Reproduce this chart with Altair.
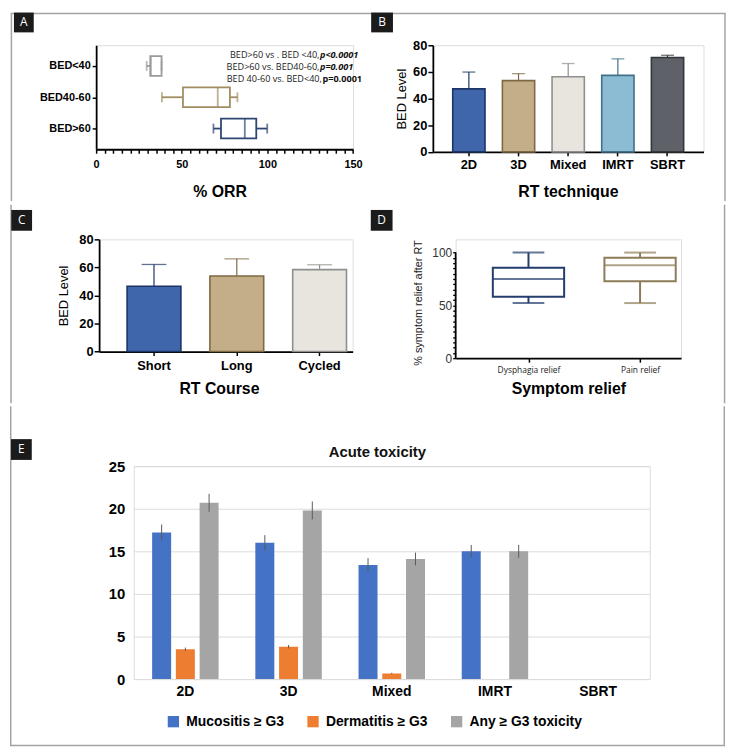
import altair as alt
import pandas as pd

# ---------------- data ----------------
# Panel A: % ORR by BED group (box plots)
bed_groups = ["BED<40", "BED40-60", "BED>60"]
orr_min = [29.5, 38.4, 68.5]
orr_q1 = [31.6, 50.7, 72.9]
orr_median = [32.0, 71.0, 86.8]
orr_q3 = [38.2, 78.1, 93.5]
orr_max = [38.2, 82.5, 99.9]
bed_colors = ["#9a9a9a", "#a18d62", "#2d4673"]
orr_ticks = list(range(0, 151, 5))
pvalue_text = ["BED>60 vs . BED <40, ", "BED>60 vs. BED40-60,", "BED 40-60 vs. BED<40,"]
pvalue_bold = ["p<0.0001", "p=0.001", "p=0.0001"]
pvalue_style = ["italic", "italic", "normal"]

# Panel B: BED level by RT technique
techniques = ["2D", "3D", "Mixed", "IMRT", "SBRT"]
bed_mean_tech = [47.3, 53.5, 56.4, 57.4, 70.8]
bed_sd_tech = [12.6, 5.2, 9.9, 12.4, 1.7]
tech_fill = ["#3f66aa", "#c4ae88", "#e8e5de", "#8bbcd3", "#5e6167"]
tech_stroke = ["#1c3466", "#7d6a45", "#8f8f8f", "#3f7189", "#33363a"]

# Panel C: BED level by RT course
courses = ["Short", "Long", "Cycled"]
bed_mean_course = [46.6, 53.9, 58.4]
bed_sd_course = [15.5, 12.2, 3.5]
course_fill = ["#3f66aa", "#c4ae88", "#e8e5de"]
course_stroke = ["#1c3466", "#7d6a45", "#8f8f8f"]

# Panel D: symptom relief (box plots)
symptoms = ["Dysphagia relief", "Pain relief"]
relief_min = [52.2, 52.2]
relief_q1 = [58.1, 72.8]
relief_median = [75.0, 88.1]
relief_q3 = [85.6, 95.0]
relief_max = [100.0, 100.0]
relief_axis = [0, 100]
symptom_colors = ["#233d6d", "#8e7c58"]

# Panel E: acute toxicity
tox_series = ["Mucositis \u2265 G3", "Dermatitis \u2265 G3", "Any \u2265 G3 toxicity"]
tox_colors = ["#4472c4", "#ed7d31", "#a5a5a5"]
mucositis = [17.2, 16.0, 13.4, 15.0, None]
mucositis_err = [0.95, 0.9, 0.8, 0.75, None]
dermatitis = [3.5, 3.8, 0.66, None, None]
dermatitis_err = [0.2, 0.2, 0.08, None, None]
any_tox = [20.7, 19.8, 14.1, 15.0, None]
any_tox_err = [1.05, 1.05, 0.75, 0.75, None]

panel_letters = ["A", "B", "C", "D", "E"]

FONT = "Liberation Sans"
FRAME = "#a3a3a3"
one = pd.DataFrame({"k": [0]})


def spacer(w):
    return alt.Chart(one).mark_point(size=0, opacity=0, strokeWidth=0).encode(
        x=alt.value(0), y=alt.value(0)).properties(
        width=w, height=1, view=alt.ViewBackground(strokeWidth=0, strokeOpacity=0, opacity=0))


def band_layers(x0, x1, y0, y1, top=None, bottom=False):
    """Invisible band fixing a row's extent, plus the figure frame segments for that row."""
    out = [alt.Chart(one).mark_rect(fill="white", opacity=0).encode(
        x=alt.value(x0), x2=alt.value(x1), y=alt.value(y0), y2=alt.value(y1))]
    ya = top if top is not None else y0 + 0.75
    yb = y1 - 0.75
    for xx in (x0 + 0.75, x1 - 0.75):
        out.append(alt.Chart(one).mark_rule(color=FRAME, strokeWidth=1.5).encode(
            x=alt.value(xx), y=alt.value(ya), y2=alt.value(yb)))
    if top is not None:
        out.append(alt.Chart(one).mark_rule(color=FRAME, strokeWidth=1.5).encode(
            x=alt.value(x0), x2=alt.value(x1), y=alt.value(top)))
    if bottom:
        out.append(alt.Chart(one).mark_rule(color=FRAME, strokeWidth=1.5).encode(
            x=alt.value(x0), x2=alt.value(x1), y=alt.value(y1 - 0.75)))
    return out


def letter_layers(letters, boxes):
    out = []
    for letter, (x0, y0, x1, y1) in zip(letters, boxes):
        out.append(alt.Chart(one).mark_rect(fill="#1b1b1b").encode(
            x=alt.value(x0), x2=alt.value(x1), y=alt.value(y0), y2=alt.value(y1)))
        out.append(alt.Chart(one).mark_text(
            text=letter, font="Open Sans", fontSize=12, color="white", align="center",
            baseline="middle").encode(x=alt.value((x0 + x1) / 2), y=alt.value((y0 + y1) / 2)))
    return out


# ---------------- Panel A ----------------
dfA = pd.DataFrame({"group": bed_groups, "lo": orr_min, "q1": orr_q1, "med": orr_median,
                    "q3": orr_q3, "hi": orr_max, "col": bed_colors})


def xA(field):
    return alt.X(field, type="quantitative",
                 scale=alt.Scale(domain=[0, 150], nice=False, zero=True),
                 axis=alt.Axis(values=orr_ticks, labelExpr="datum.value % 50 === 0 ? datum.label : ''",
                               labelOverlap=False, labelFlush=False, grid=False,
                               labelFontSize=11, labelFontWeight="bold", labelColor="black",
                               labelPadding=5, tickSize=4, tickWidth=1.5, tickColor="black",
                               domainColor="black", domainWidth=1.8,
                               title="% ORR", titleFontSize=16, titleFontWeight="bold",
                               titleColor="black", titleBaseline="middle", titleY=43, titleX=124.7))


yA = alt.Y("group:N", sort=bed_groups,
           scale=alt.Scale(type="point", domain=bed_groups, padding=0.66),
           axis=alt.Axis(title=None, labelFontSize=11, labelFontWeight="bold", labelColor="black",
                         tickSize=4, tickWidth=1.5, tickColor="black", labelPadding=2,
                         domainColor="black", domainWidth=1.8, grid=False))
colA = alt.Color("col:N", scale=None)

a_box = alt.Chart(dfA).mark_bar(fill="white", strokeWidth=1.8, size=20).encode(
    x=xA("q1"), x2="q3:Q", y=yA, stroke=alt.Stroke("col:N", scale=None))
a_wl = alt.Chart(dfA).mark_rule(strokeWidth=1.8).encode(x=xA("lo"), x2="q1:Q", y=yA, color=colA)
a_wh = alt.Chart(dfA).mark_rule(strokeWidth=1.8).encode(x=xA("q3"), x2="hi:Q", y=yA, color=colA)
a_caps = alt.Chart(dfA).transform_fold(["lo", "hi"], as_=["which", "capv"]).mark_tick(
    size=10, thickness=1.8).encode(x=xA("capv"), y=yA, color=colA)
a_med = alt.Chart(dfA).mark_tick(size=20, thickness=1.8).encode(x=xA("med"), y=yA, color=colA)

# annotations (pixel positions relative to panel A plot area)
ann_y = [9.5, 21.5, 34.0]
ann_px = [226.0, 226.0, 228.5]
ann_layers = []
for i in range(3):
    ann_layers.append(alt.Chart(one).mark_text(
        text=pvalue_text[i], align="right", baseline="middle", font="Open Sans", fontSize=9.2,
        color="#222").encode(x=alt.value(ann_px[i] - 0.5), y=alt.value(ann_y[i])))
    ann_layers.append(alt.Chart(one).mark_text(
        text=pvalue_bold[i], align="left", baseline="middle", font="Open Sans", fontSize=9.2,
        fontWeight="bold", fontStyle=pvalue_style[i], color="#111").encode(
        x=alt.value(ann_px[i]), y=alt.value(ann_y[i])))

panelA = alt.layer(*band_layers(-86.3, 635.7, -33, 158, top=-32), a_box, a_wl, a_wh, a_caps,
                   a_med, *ann_layers,
                   *letter_layers(panel_letters[:2], [(-83, -33, -63, -13),
                                                      (277.7, -33, 299.7, -13)])
                   ).properties(width=259.4, height=105)


# ---------------- Panels B and C (bars with upper SD) ----------------
def bar_layers(cats, means, sds, fills, strokes, scale_kw, cap, xtitle, xtitle_x,
               xtitle_y, ytitle_x, lab_pad_x):
    df = pd.DataFrame({"cat": cats, "mean": means, "sd": sds, "fill": fills, "stroke": strokes})
    base = alt.Chart(df).transform_calculate(top="datum.mean + datum.sd")
    xax = alt.Axis(title=xtitle, labelAngle=0, labelFontSize=13, labelFontWeight="bold",
                   labelColor="black", tickSize=4, tickWidth=1.5, tickColor="black",
                   labelPadding=lab_pad_x, domainColor="black", domainWidth=1.8,
                   titleFontSize=16, titleFontWeight="bold", titleColor="black",
                   titleBaseline="middle", titleY=xtitle_y, titleX=xtitle_x)
    x = alt.X("cat:N", sort=cats, scale=alt.Scale(domain=cats, **scale_kw), axis=xax)
    yax = alt.Axis(values=[0, 20, 40, 60, 80], title="BED Level", labelFontSize=13,
                   labelFontWeight="bold", labelColor="black", tickSize=5, tickWidth=1.5,
                   tickColor="black", labelPadding=1, domainColor="black", domainWidth=1.8,
                   grid=False, titleFontSize=13, titleFontWeight="normal", titleColor="black",
                   titleBaseline="middle", titleX=ytitle_x)

    def y(field):
        return alt.Y(field, type="quantitative", scale=alt.Scale(domain=[0, 80], nice=False),
                     axis=yax)

    err = base.mark_rule(strokeWidth=1.2).encode(
        x=x, y=y("mean"), y2="top:Q", color=alt.Color("stroke:N", scale=None))
    caps = base.mark_tick(size=cap, thickness=1.3).encode(
        x=x, y=y("top"), color=alt.Color("stroke:N", scale=None))
    bars = base.mark_bar(strokeWidth=1.6).encode(
        x=x, y=y("mean"), fill=alt.Fill("fill:N", scale=None),
        stroke=alt.Stroke("stroke:N", scale=None))
    return [err, caps, bars]


panelB = alt.layer(*bar_layers(techniques, bed_mean_tech, bed_sd_tech, tech_fill, tech_stroke,
                               dict(paddingInner=0.35, paddingOuter=0.4), 13, "RT technique",
                               136.3, 39.7, -31.7, 2.5)).properties(width=273.3, height=107.7)

panelC = alt.layer(*band_layers(-89.7, 632.3, -35.7, 166.3),
                   *bar_layers(courses, bed_mean_course, bed_sd_course, course_fill, course_stroke,
                               dict(paddingInner=0.35, paddingOuter=0.206, align=0.82), 25,
                               "RT Course", 121, 37, -35.7, 3.8),
                   *letter_layers(panel_letters[2:4], [(-88.7, -29.7, -67.7, -8.7),
                                                       (274.3, -29.7, 296.3, -8.7)])
                   ).properties(width=256, height=113.3)

# ---------------- Panel D ----------------
dfD = pd.DataFrame({"sym": symptoms, "lo": relief_min, "q1": relief_q1, "med": relief_median,
                    "q3": relief_q3, "hi": relief_max, "col": symptom_colors})
xD = alt.X("sym:N", sort=symptoms,
           scale=alt.Scale(type="point", domain=symptoms, padding=0.51, align=0.64),
           axis=alt.Axis(labelAngle=0, labelFont="Open Sans", labelFontSize=8.5, labelColor="#222",
                         tickSize=4, tickWidth=1.5, tickColor="black", labelPadding=3.4,
                         domainColor="black", domainWidth=1.8, title="Symptom relief",
                         titleFontSize=16, titleFontWeight="bold", titleColor="black",
                         titleBaseline="middle", titleY=30.3))
D_TOP = 112.5  # plot area reaches above 100 so the panel sits lower than panel C


def yD(field):
    return alt.Y(field, type="quantitative", scale=alt.Scale(domain=[0, D_TOP], nice=False),
                 axis=alt.Axis(values=list(range(0, 101, 5)),
                               labelExpr="datum.value % 50 === 0 ? datum.label : ''",
                               labelOverlap=False, labelFlush=False, grid=False, labelFontSize=12,
                               labelColor="#333", tickSize=3, tickWidth=1.3, tickColor="black",
                               labelPadding=1, domain=False,
                               title="% symptom relief after RT", titleFontSize=11,
                               titleFontWeight="normal", titleColor="#222",
                               titleBaseline="middle", titleX=-37.4, titleY=63.8))


colD = alt.Color("col:N", scale=None)
dfDaxis = pd.DataFrame({"a0": [relief_axis[0]], "a1": [relief_axis[1]]})
d_axis = alt.Chart(dfDaxis).mark_rule(color="black", strokeWidth=1.8).encode(
    x=alt.value(0), y=yD("a0"), y2="a1:Q")
d_box = alt.Chart(dfD).mark_bar(fill="white", strokeWidth=2, size=72).encode(
    x=xD, y=yD("q1"), y2="q3:Q", stroke=alt.Stroke("col:N", scale=None))
d_wl = alt.Chart(dfD).mark_rule(strokeWidth=2).encode(x=xD, y=yD("lo"), y2="q1:Q", color=colD)
d_wh = alt.Chart(dfD).mark_rule(strokeWidth=2).encode(x=xD, y=yD("q3"), y2="hi:Q", color=colD)
d_caps = alt.Chart(dfD).transform_fold(["lo", "hi"], as_=["which", "capv"]).mark_tick(
    size=32, thickness=2).encode(x=xD, y=yD("capv"), color=colD)
d_med = alt.Chart(dfD).mark_tick(size=72, thickness=2).encode(x=xD, y=yD("med"), color=colD)
panelD = alt.layer(d_box, d_wl, d_wh, d_caps, d_med, d_axis).properties(width=227.6, height=120)

# ---------------- Panel E ----------------
rows = []
for s, vals, errs in zip(tox_series, [mucositis, dermatitis, any_tox],
                         [mucositis_err, dermatitis_err, any_tox_err]):
    for t, v, e in zip(techniques, vals, errs):
        if v is not None:
            rows.append({"tech": t, "series": s, "value": v, "lo": v - e, "hi": v + e})
dfE = pd.DataFrame(rows)

xE = alt.X("tech:N", sort=techniques,
           scale=alt.Scale(domain=techniques, paddingInner=0.31, paddingOuter=0.155),
           axis=alt.Axis(title=None, labelAngle=0, domain=False, ticks=False, labelFontSize=14,
                         labelFontWeight="bold", labelColor="black", labelPadding=6))
xoE = alt.XOffset("series:N", sort=tox_series,
                  scale=alt.Scale(domain=tox_series, paddingInner=0.2, paddingOuter=0.1))


def yE(field):
    return alt.Y(field, type="quantitative", scale=alt.Scale(domain=[0, 25], nice=False),
                 axis=alt.Axis(values=[0, 5, 10, 15, 20, 25], title=None, grid=True,
                               gridColor="#dcdcdc", gridWidth=1, domain=False, ticks=False,
                               labelFontSize=15, labelFontWeight="bold", labelColor="black",
                               labelPadding=9))


e_bars = alt.Chart(dfE).mark_bar().encode(
    x=xE, xOffset=xoE, y=yE("value"),
    color=alt.Color("series:N", sort=tox_series,
                    scale=alt.Scale(domain=tox_series, range=tox_colors),
                    legend=alt.Legend(orient="none", legendX=158, legendY=251,
                                      direction="horizontal", columns=3, title=None,
                                      symbolType="square", symbolSize=130, symbolStrokeWidth=0,
                                      labelFontSize=14, labelFontWeight="bold", labelColor="black",
                                      labelOffset=6, columnPadding=22)))
e_err = alt.Chart(dfE).mark_rule(color="#5a5a5a", strokeWidth=1).encode(
    x=xE, xOffset=xoE, y=yE("lo"), y2="hi:Q")
e_title = alt.Chart(one).mark_text(text="Acute toxicity", fontSize=15, fontWeight="bold",
                                   align="center", baseline="middle", color="#111").encode(
    x=alt.value(246), y=alt.value(-14.3))
panelE = alt.layer(*band_layers(-125, 597, -61.3, 282.7, bottom=True), e_bars, e_err, e_title,
                   *letter_layers(panel_letters[4:], [(-124, -27.3, -103, -6.3)])
                   ).properties(width=521, height=215)

# ---------------- layout ----------------
row1 = alt.hconcat(spacer(86.3), panelA, spacer(80), panelB, spacing=0, bounds="flush")
row2 = alt.hconcat(spacer(89.7), panelC, spacer(104), panelD, spacing=0, bounds="flush")
row3 = alt.hconcat(spacer(125), panelE, spacing=0, bounds="flush")

chart = alt.vconcat(row1, row2, row3, spacing=0).resolve_scale(
    color="independent").properties(padding=0).configure_view(stroke=None).configure(
    font=FONT, background="white")

chart.save("out.html", embed_options={"renderer": "svg", "actions": False})
